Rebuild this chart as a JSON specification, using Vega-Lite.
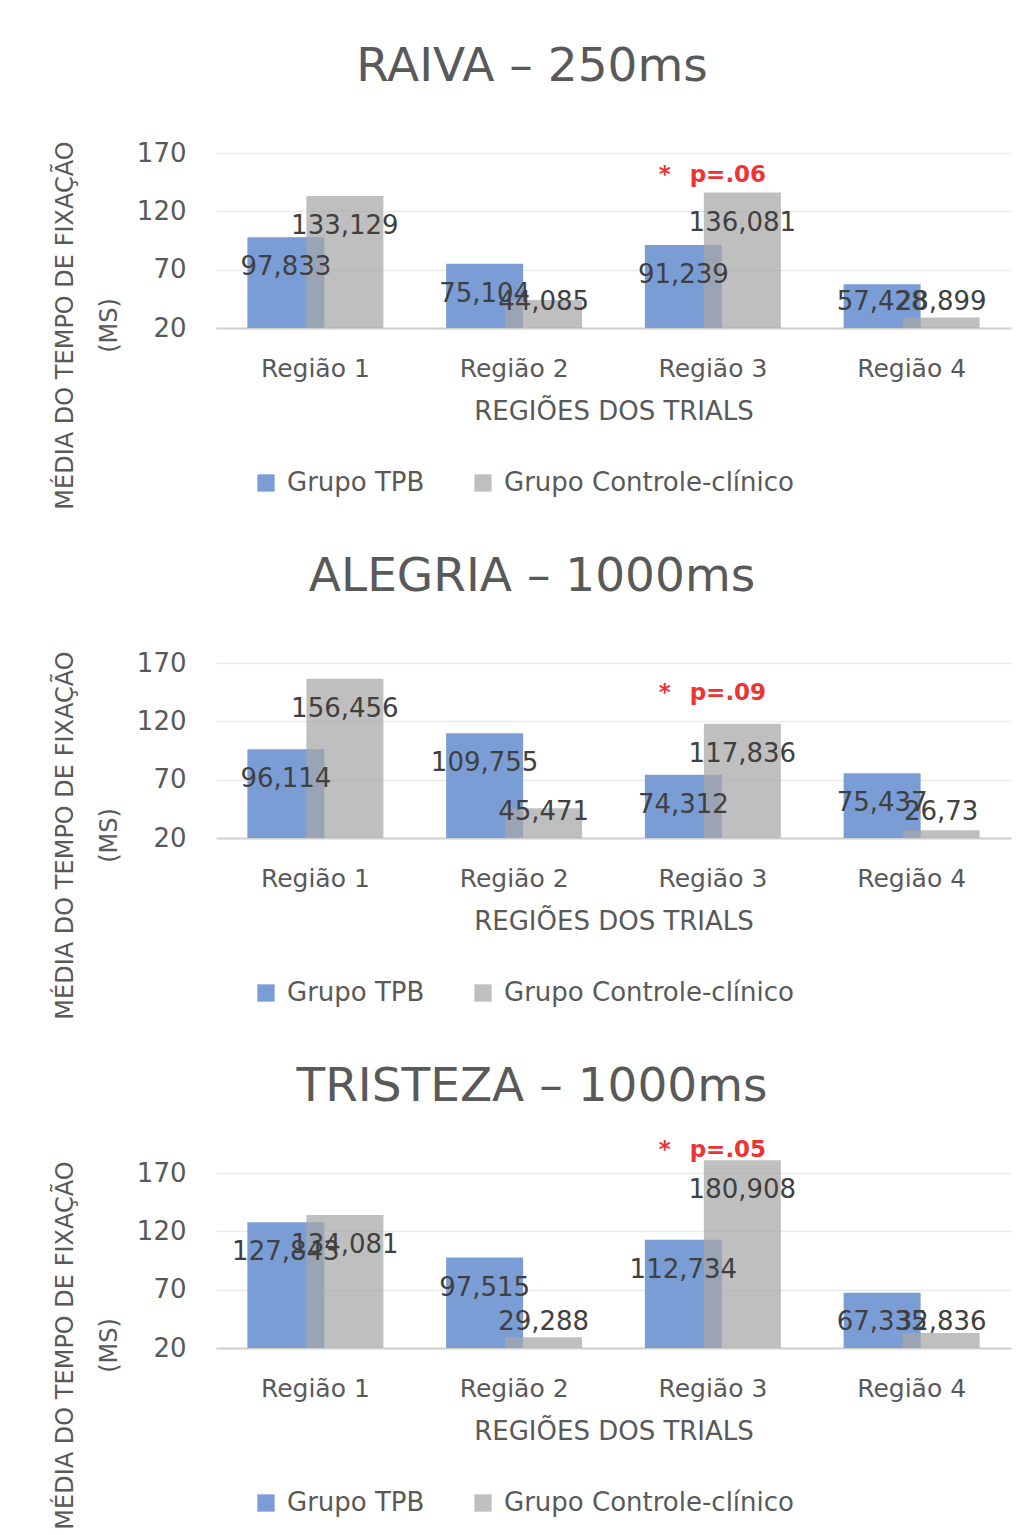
{
  "$schema": "https://vega.github.io/schema/vega-lite/v6.json",
  "background": "white",
  "padding": {"left": 52, "top": 43, "right": 5, "bottom": 5},
  "data": {
    "values": [
      {"painel": "RAIVA", "regiao": "Região 1", "grupo": "Grupo TPB", "valor": 97.833},
      {"painel": "RAIVA", "regiao": "Região 1", "grupo": "Grupo Controle-clínico", "valor": 133.129},
      {"painel": "RAIVA", "regiao": "Região 2", "grupo": "Grupo TPB", "valor": 75.104},
      {"painel": "RAIVA", "regiao": "Região 2", "grupo": "Grupo Controle-clínico", "valor": 44.085},
      {"painel": "RAIVA", "regiao": "Região 3", "grupo": "Grupo TPB", "valor": 91.239},
      {"painel": "RAIVA", "regiao": "Região 3", "grupo": "Grupo Controle-clínico", "valor": 136.081},
      {"painel": "RAIVA", "regiao": "Região 4", "grupo": "Grupo TPB", "valor": 57.428},
      {"painel": "RAIVA", "regiao": "Região 4", "grupo": "Grupo Controle-clínico", "valor": 28.899},
      {"painel": "ALEGRIA", "regiao": "Região 1", "grupo": "Grupo TPB", "valor": 96.114},
      {"painel": "ALEGRIA", "regiao": "Região 1", "grupo": "Grupo Controle-clínico", "valor": 156.456},
      {"painel": "ALEGRIA", "regiao": "Região 2", "grupo": "Grupo TPB", "valor": 109.755},
      {"painel": "ALEGRIA", "regiao": "Região 2", "grupo": "Grupo Controle-clínico", "valor": 45.471},
      {"painel": "ALEGRIA", "regiao": "Região 3", "grupo": "Grupo TPB", "valor": 74.312},
      {"painel": "ALEGRIA", "regiao": "Região 3", "grupo": "Grupo Controle-clínico", "valor": 117.836},
      {"painel": "ALEGRIA", "regiao": "Região 4", "grupo": "Grupo TPB", "valor": 75.437},
      {"painel": "ALEGRIA", "regiao": "Região 4", "grupo": "Grupo Controle-clínico", "valor": 26.73},
      {"painel": "TRISTEZA", "regiao": "Região 1", "grupo": "Grupo TPB", "valor": 127.843},
      {"painel": "TRISTEZA", "regiao": "Região 1", "grupo": "Grupo Controle-clínico", "valor": 134.081},
      {"painel": "TRISTEZA", "regiao": "Região 2", "grupo": "Grupo TPB", "valor": 97.515},
      {"painel": "TRISTEZA", "regiao": "Região 2", "grupo": "Grupo Controle-clínico", "valor": 29.288},
      {"painel": "TRISTEZA", "regiao": "Região 3", "grupo": "Grupo TPB", "valor": 112.734},
      {"painel": "TRISTEZA", "regiao": "Região 3", "grupo": "Grupo Controle-clínico", "valor": 180.908},
      {"painel": "TRISTEZA", "regiao": "Região 4", "grupo": "Grupo TPB", "valor": 67.335},
      {"painel": "TRISTEZA", "regiao": "Região 4", "grupo": "Grupo Controle-clínico", "valor": 32.836}
    ]
  },
  "spacing": 43,
  "resolve": {
    "scale": {"color": "independent", "opacity": "independent"},
    "legend": {"color": "independent", "opacity": "independent"}
  },
  "vconcat": [
    {
      "title": {"text": "RAIVA – 250ms"},
      "width": 795,
      "height": 210,
      "transform": [{"filter": "datum.painel === 'RAIVA'"}],
      "encoding": {
        "x": {"field": "regiao", "type": "nominal", "sort": null, "scale": {"paddingInner": 0, "paddingOuter": 0}, "title": "REGIÕES DOS TRIALS"}
      },
      "layer": [
        {
          "transform": [{"filter": "datum.grupo === 'Grupo TPB'"}],
          "mark": {"type": "bar", "width": 77, "xOffset": -29.5},
          "encoding": {
            "y": {"field": "valor", "type": "quantitative", "scale": {"domain": [20, 200], "zero": false, "nice": false}, "axis": {"values": [20, 70, 120, 170], "format": "d"}, "title": ["MÉDIA DO TEMPO DE FIXAÇÃO", "(MS)"]},
            "y2": {"datum": 20},
            "color": {"field": "grupo", "type": "nominal", "scale": {"domain": ["Grupo TPB", "Grupo Controle-clínico"], "range": ["#7b9dd6", "#a6a6a6"]}, "legend": {"title": null}},
            "opacity": {"field": "grupo", "type": "nominal", "scale": {"domain": ["Grupo TPB", "Grupo Controle-clínico"], "range": [1, 0.72]}, "legend": {"title": null}}
          }
        },
        {
          "transform": [{"filter": "datum.grupo === 'Grupo Controle-clínico'"}],
          "mark": {"type": "bar", "width": 77, "xOffset": 29.5},
          "encoding": {
            "y": {"field": "valor", "type": "quantitative"},
            "y2": {"datum": 20},
            "color": {"field": "grupo", "type": "nominal", "scale": {"domain": ["Grupo TPB", "Grupo Controle-clínico"], "range": ["#7b9dd6", "#a6a6a6"]}, "legend": {"title": null}},
            "opacity": {"field": "grupo", "type": "nominal", "scale": {"domain": ["Grupo TPB", "Grupo Controle-clínico"], "range": [1, 0.72]}, "legend": {"title": null}}
          }
        },
        {
          "transform": [{"filter": "datum.grupo === 'Grupo TPB' && datum.valor >= 68"}],
          "mark": {"type": "text", "xOffset": -29.5, "dy": 30},
          "encoding": {"y": {"field": "valor", "type": "quantitative"}, "text": {"field": "valor", "type": "quantitative", "format": ".3~f"}}
        },
        {
          "transform": [{"filter": "datum.grupo === 'Grupo TPB' && datum.valor < 68"}],
          "mark": {"type": "text", "xOffset": -29.5},
          "encoding": {"y": {"datum": 42.7}, "text": {"field": "valor", "type": "quantitative", "format": ".3~f"}}
        },
        {
          "transform": [{"filter": "datum.grupo === 'Grupo Controle-clínico' && datum.valor >= 68"}],
          "mark": {"type": "text", "xOffset": 29.5, "dy": 30},
          "encoding": {"y": {"field": "valor", "type": "quantitative"}, "text": {"field": "valor", "type": "quantitative", "format": ".3~f"}}
        },
        {
          "transform": [{"filter": "datum.grupo === 'Grupo Controle-clínico' && datum.valor < 68"}],
          "mark": {"type": "text", "xOffset": 29.5},
          "encoding": {"y": {"datum": 42.7}, "text": {"field": "valor", "type": "quantitative", "format": ".3~f"}}
        },
        {
          "data": {"values": [{}]},
          "mark": {"type": "text", "color": "#ee3333", "fontSize": 23, "fontWeight": "bold", "xOffset": -48},
          "encoding": {"x": {"datum": "Região 3"}, "y": {"datum": 151}, "text": {"value": "*"}}
        },
        {
          "data": {"values": [{}]},
          "mark": {"type": "text", "color": "#ee3333", "fontSize": 23, "fontWeight": "bold", "xOffset": 15},
          "encoding": {"x": {"datum": "Região 3"}, "y": {"datum": 151}, "text": {"value": "p=.06"}}
        }
      ]
    },
    {
      "title": {"text": "ALEGRIA – 1000ms"},
      "width": 795,
      "height": 210,
      "transform": [{"filter": "datum.painel === 'ALEGRIA'"}],
      "encoding": {
        "x": {"field": "regiao", "type": "nominal", "sort": null, "scale": {"paddingInner": 0, "paddingOuter": 0}, "title": "REGIÕES DOS TRIALS"}
      },
      "layer": [
        {
          "transform": [{"filter": "datum.grupo === 'Grupo TPB'"}],
          "mark": {"type": "bar", "width": 77, "xOffset": -29.5},
          "encoding": {
            "y": {"field": "valor", "type": "quantitative", "scale": {"domain": [20, 200], "zero": false, "nice": false}, "axis": {"values": [20, 70, 120, 170], "format": "d"}, "title": ["MÉDIA DO TEMPO DE FIXAÇÃO", "(MS)"]},
            "y2": {"datum": 20},
            "color": {"field": "grupo", "type": "nominal", "scale": {"domain": ["Grupo TPB", "Grupo Controle-clínico"], "range": ["#7b9dd6", "#a6a6a6"]}, "legend": {"title": null}},
            "opacity": {"field": "grupo", "type": "nominal", "scale": {"domain": ["Grupo TPB", "Grupo Controle-clínico"], "range": [1, 0.72]}, "legend": {"title": null}}
          }
        },
        {
          "transform": [{"filter": "datum.grupo === 'Grupo Controle-clínico'"}],
          "mark": {"type": "bar", "width": 77, "xOffset": 29.5},
          "encoding": {
            "y": {"field": "valor", "type": "quantitative"},
            "y2": {"datum": 20},
            "color": {"field": "grupo", "type": "nominal", "scale": {"domain": ["Grupo TPB", "Grupo Controle-clínico"], "range": ["#7b9dd6", "#a6a6a6"]}, "legend": {"title": null}},
            "opacity": {"field": "grupo", "type": "nominal", "scale": {"domain": ["Grupo TPB", "Grupo Controle-clínico"], "range": [1, 0.72]}, "legend": {"title": null}}
          }
        },
        {
          "transform": [{"filter": "datum.grupo === 'Grupo TPB' && datum.valor >= 68"}],
          "mark": {"type": "text", "xOffset": -29.5, "dy": 30},
          "encoding": {"y": {"field": "valor", "type": "quantitative"}, "text": {"field": "valor", "type": "quantitative", "format": ".3~f"}}
        },
        {
          "transform": [{"filter": "datum.grupo === 'Grupo TPB' && datum.valor < 68"}],
          "mark": {"type": "text", "xOffset": -29.5},
          "encoding": {"y": {"datum": 42.7}, "text": {"field": "valor", "type": "quantitative", "format": ".3~f"}}
        },
        {
          "transform": [{"filter": "datum.grupo === 'Grupo Controle-clínico' && datum.valor >= 68"}],
          "mark": {"type": "text", "xOffset": 29.5, "dy": 30},
          "encoding": {"y": {"field": "valor", "type": "quantitative"}, "text": {"field": "valor", "type": "quantitative", "format": ".3~f"}}
        },
        {
          "transform": [{"filter": "datum.grupo === 'Grupo Controle-clínico' && datum.valor < 68"}],
          "mark": {"type": "text", "xOffset": 29.5},
          "encoding": {"y": {"datum": 42.7}, "text": {"field": "valor", "type": "quantitative", "format": ".3~f"}}
        },
        {
          "data": {"values": [{}]},
          "mark": {"type": "text", "color": "#ee3333", "fontSize": 23, "fontWeight": "bold", "xOffset": -48},
          "encoding": {"x": {"datum": "Região 3"}, "y": {"datum": 144.3}, "text": {"value": "*"}}
        },
        {
          "data": {"values": [{}]},
          "mark": {"type": "text", "color": "#ee3333", "fontSize": 23, "fontWeight": "bold", "xOffset": 15},
          "encoding": {"x": {"datum": "Região 3"}, "y": {"datum": 144.3}, "text": {"value": "p=.09"}}
        }
      ]
    },
    {
      "title": {"text": "TRISTEZA – 1000ms"},
      "width": 795,
      "height": 210,
      "transform": [{"filter": "datum.painel === 'TRISTEZA'"}],
      "encoding": {
        "x": {"field": "regiao", "type": "nominal", "sort": null, "scale": {"paddingInner": 0, "paddingOuter": 0}, "title": "REGIÕES DOS TRIALS"}
      },
      "layer": [
        {
          "transform": [{"filter": "datum.grupo === 'Grupo TPB'"}],
          "mark": {"type": "bar", "width": 77, "xOffset": -29.5},
          "encoding": {
            "y": {"field": "valor", "type": "quantitative", "scale": {"domain": [20, 200], "zero": false, "nice": false}, "axis": {"values": [20, 70, 120, 170], "format": "d"}, "title": ["MÉDIA DO TEMPO DE FIXAÇÃO", "(MS)"]},
            "y2": {"datum": 20},
            "color": {"field": "grupo", "type": "nominal", "scale": {"domain": ["Grupo TPB", "Grupo Controle-clínico"], "range": ["#7b9dd6", "#a6a6a6"]}, "legend": {"title": null}},
            "opacity": {"field": "grupo", "type": "nominal", "scale": {"domain": ["Grupo TPB", "Grupo Controle-clínico"], "range": [1, 0.72]}, "legend": {"title": null}}
          }
        },
        {
          "transform": [{"filter": "datum.grupo === 'Grupo Controle-clínico'"}],
          "mark": {"type": "bar", "width": 77, "xOffset": 29.5},
          "encoding": {
            "y": {"field": "valor", "type": "quantitative"},
            "y2": {"datum": 20},
            "color": {"field": "grupo", "type": "nominal", "scale": {"domain": ["Grupo TPB", "Grupo Controle-clínico"], "range": ["#7b9dd6", "#a6a6a6"]}, "legend": {"title": null}},
            "opacity": {"field": "grupo", "type": "nominal", "scale": {"domain": ["Grupo TPB", "Grupo Controle-clínico"], "range": [1, 0.72]}, "legend": {"title": null}}
          }
        },
        {
          "transform": [{"filter": "datum.grupo === 'Grupo TPB' && datum.valor >= 68"}],
          "mark": {"type": "text", "xOffset": -29.5, "dy": 30},
          "encoding": {"y": {"field": "valor", "type": "quantitative"}, "text": {"field": "valor", "type": "quantitative", "format": ".3~f"}}
        },
        {
          "transform": [{"filter": "datum.grupo === 'Grupo TPB' && datum.valor < 68"}],
          "mark": {"type": "text", "xOffset": -29.5},
          "encoding": {"y": {"datum": 42.7}, "text": {"field": "valor", "type": "quantitative", "format": ".3~f"}}
        },
        {
          "transform": [{"filter": "datum.grupo === 'Grupo Controle-clínico' && datum.valor >= 68"}],
          "mark": {"type": "text", "xOffset": 29.5, "dy": 30},
          "encoding": {"y": {"field": "valor", "type": "quantitative"}, "text": {"field": "valor", "type": "quantitative", "format": ".3~f"}}
        },
        {
          "transform": [{"filter": "datum.grupo === 'Grupo Controle-clínico' && datum.valor < 68"}],
          "mark": {"type": "text", "xOffset": 29.5},
          "encoding": {"y": {"datum": 42.7}, "text": {"field": "valor", "type": "quantitative", "format": ".3~f"}}
        },
        {
          "data": {"values": [{}]},
          "mark": {"type": "text", "color": "#ee3333", "fontSize": 23, "fontWeight": "bold", "xOffset": -48},
          "encoding": {"x": {"datum": "Região 3"}, "y": {"datum": 189.7}, "text": {"value": "*"}}
        },
        {
          "data": {"values": [{}]},
          "mark": {"type": "text", "color": "#ee3333", "fontSize": 23, "fontWeight": "bold", "xOffset": 15},
          "encoding": {"x": {"datum": "Região 3"}, "y": {"datum": 189.7}, "text": {"value": "p=.05"}}
        }
      ]
    }
  ],
  "config": {
    "font": "DejaVu Sans",
    "view": {"stroke": null},
    "locale": {"number": {"decimal": ",", "thousands": ".", "grouping": [3], "currency": ["", ""]}},
    "title": {"fontSize": 47, "font": "DejaVu Sans", "fontWeight": "normal", "color": "#595959", "anchor": "middle", "frame": "bounds", "baseline": "bottom", "offset": 27},
    "text": {"font": "DejaVu Sans", "fontSize": 26, "color": "#404040", "baseline": "middle"},
    "axis": {"labelFont": "DejaVu Sans", "titleFont": "DejaVu Sans", "labelColor": "#595959", "titleColor": "#595959", "titleFontWeight": "normal", "ticks": false},
    "axisX": {"labelFontSize": 25, "labelAngle": 0, "labelPadding": 28, "titleFontSize": 26, "titlePadding": 17, "domainColor": "#d0d0d0", "domainWidth": 2, "grid": false},
    "axisY": {"labelFontSize": 26, "labelPadding": 30, "domain": false, "gridColor": "#eaeaea", "gridWidth": 1.5, "titleFontSize": 24, "titleLineHeight": 44, "titleAngle": -90, "titleX": -163, "titleY": 207, "titleBaseline": "top", "titleAlign": "center"},
    "legend": {"orient": "none", "legendX": 37, "legendY": 352, "direction": "horizontal", "labelFontSize": 26, "labelFont": "DejaVu Sans", "labelColor": "#595959", "labelLimit": 0, "symbolType": "square", "symbolSize": 300, "symbolStrokeWidth": 0, "columnPadding": 45, "labelOffset": 8}
  }
}
